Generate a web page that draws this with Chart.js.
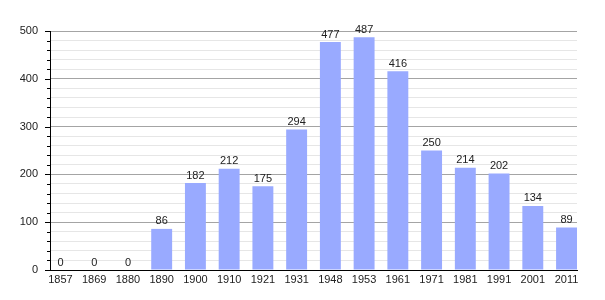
<!doctype html>
<html>
  <head>
    <script src="https://cdn.jsdelivr.net/npm/chart.js@4/dist/chart.umd.min.js"></script>
    <style>
      body { margin: 0; background: #fff; }
      #wrap { width: 605px; height: 300px; }
    </style>
  </head>
  <body>
    <div id="wrap"><canvas id="canvas"></canvas></div>
    <script>
      const years = ['1857', '1869', '1880', '1890', '1900', '1910', '1921', '1931',
                     '1948', '1953', '1961', '1971', '1981', '1991', '2001', '2011'];
      const population = [0, 0, 0, 86, 182, 212, 175, 294, 477, 487, 416, 250, 214, 202, 134, 89];
      const yTicks = [0, 100, 200, 300, 400, 500];

      const FONT = 'Liberation Sans, Arial, sans-serif';

      // value labels above bars + short/long tick marks on the y axis
      const extras = {
        id: 'extras',
        afterDatasetsDraw(chart) {
          const ctx = chart.ctx;
          const meta = chart.getDatasetMeta(0);
          ctx.save();
          ctx.font = '11px ' + FONT;
          ctx.fillStyle = '#222';
          ctx.textAlign = 'center';
          ctx.textBaseline = 'bottom';
          meta.data.forEach((bar, i) => {
            ctx.fillText(population[i], bar.x, bar.y - 2);
          });
          const y = chart.scales.y;
          const left = chart.chartArea.left;
          ctx.strokeStyle = '#000';
          ctx.lineWidth = 1;
          for (let v = 0; v <= 500; v += 20) {
            const py = Math.round(y.getPixelForValue(v)) + 0.5;
            const len = v % 100 === 0 ? 5 : 3;
            ctx.beginPath();
            ctx.moveTo(left - len, py);
            ctx.lineTo(left, py);
            ctx.stroke();
          }
          ctx.restore();
        }
      };

      new Chart(document.getElementById('canvas'), {
        type: 'bar',
        data: {
          datasets: [{
            data: population.map((v, i) => ({ x: i, y: v })),
            backgroundColor: '#99aaff',
            borderWidth: 0,
            barPercentage: 0.62,
            categoryPercentage: 1
          }]
        },
        options: {
          responsive: true,
          maintainAspectRatio: false,
          animation: false,
          layout: { padding: { top: 31, right: 28, left: 0, bottom: 0 } },
          plugins: { legend: { display: false }, tooltip: { enabled: false } },
          scales: {
            x: {
              type: 'linear',
              offset: false,
              min: -0.31,
              max: 15.31,
              afterBuildTicks: s => { s.ticks = years.map((_, i) => ({ value: i })); },
              afterFit: s => { s.height = 30; },
              grid: { display: false, drawTicks: false },
              border: { display: true, color: '#000', width: 1 },
              ticks: {
                autoSkip: false,
                maxRotation: 0,
                padding: 3,
                color: '#222',
                font: { family: FONT, size: 11 },
                callback: v => years[v]
              }
            },
            y: {
              min: 0,
              max: 500,
              afterBuildTicks: s => {
                const t = [];
                for (let v = 0; v <= 500; v += 20) t.push({ value: v });
                s.ticks = t;
              },
              afterFit: s => { s.width = 50; },
              grid: {
                drawTicks: false,
                color: c => (c.tick && c.tick.value % 100 === 0) ? '#a4a4a4' : '#e6e6e6'
              },
              border: { display: true, color: '#000', width: 1 },
              ticks: {
                autoSkip: false,
                padding: 12,
                color: '#222',
                font: { family: FONT, size: 11 },
                callback: v => yTicks.includes(v) ? v : ''
              }
            }
          }
        },
        plugins: [extras]
      });
    </script>
  </body>
</html>
